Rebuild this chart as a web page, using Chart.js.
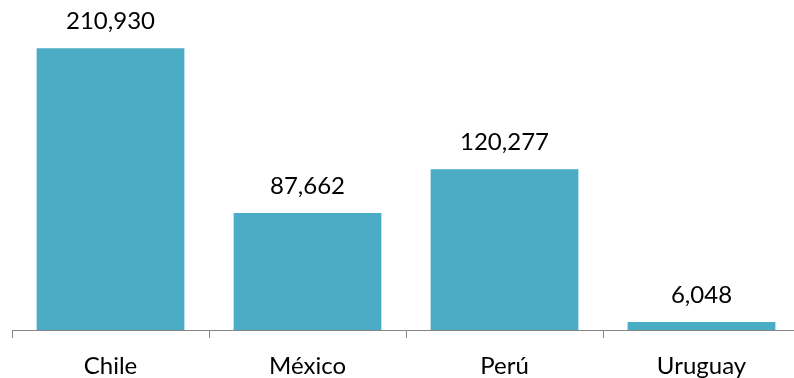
<!DOCTYPE html>
<html lang="es">
<head>
    <meta charset="UTF-8">
    <title>Chart</title>
    <script src="https://cdn.jsdelivr.net/npm/chart.js"></script>
    <style>
        html, body { margin: 0; padding: 0; background: #fff; overflow: hidden; }
        #wrap { width: 810px; height: 378px; }
    </style>
</head>
<body>
    <div id="wrap"><canvas id="barChart" width="810" height="378"></canvas></div>
    <script>
        const countries = ["Chile", "México", "Perú", "Uruguay"];
        const values = [210930, 87662, 120277, 6048];

        // draws the numbers above each bar
        const valueLabels = {
            id: "valueLabels",
            afterDatasetsDraw(chart) {
                const ctx = chart.ctx;
                const meta = chart.getDatasetMeta(0);
                ctx.save();
                ctx.font = "24px Lato";
                ctx.fillStyle = "#000";
                ctx.textAlign = "center";
                ctx.textBaseline = "alphabetic";
                meta.data.forEach((bar, i) => {
                    ctx.fillText(values[i].toLocaleString("en-US"), bar.x, bar.y - 19);
                });
                ctx.restore();
            }
        };

        new Chart(document.getElementById("barChart"), {
            type: "bar",
            data: {
                labels: countries,
                datasets: [{
                    data: values,
                    backgroundColor: "#4BACC6",
                    barPercentage: 0.75,
                    categoryPercentage: 1
                }]
            },
            options: {
                responsive: false,
                animation: false,
                layout: { padding: { left: 12, right: 10, top: 0, bottom: 0 } },
                plugins: { legend: { display: false }, tooltip: { enabled: false } },
                scales: {
                    x: {
                        border: { color: "#868686", width: 1 },
                        grid: { display: true, drawOnChartArea: false, drawTicks: true, tickLength: 8, color: "#868686", offset: true },
                        ticks: { color: "#000", font: { family: "Lato", size: 24 }, padding: 14 },
                        afterFit(scale) { scale.height = 48; }
                    },
                    y: { display: false, min: 0, max: 247000 }
                }
            },
            plugins: [valueLabels]
        });
    </script>
</body>
</html>
